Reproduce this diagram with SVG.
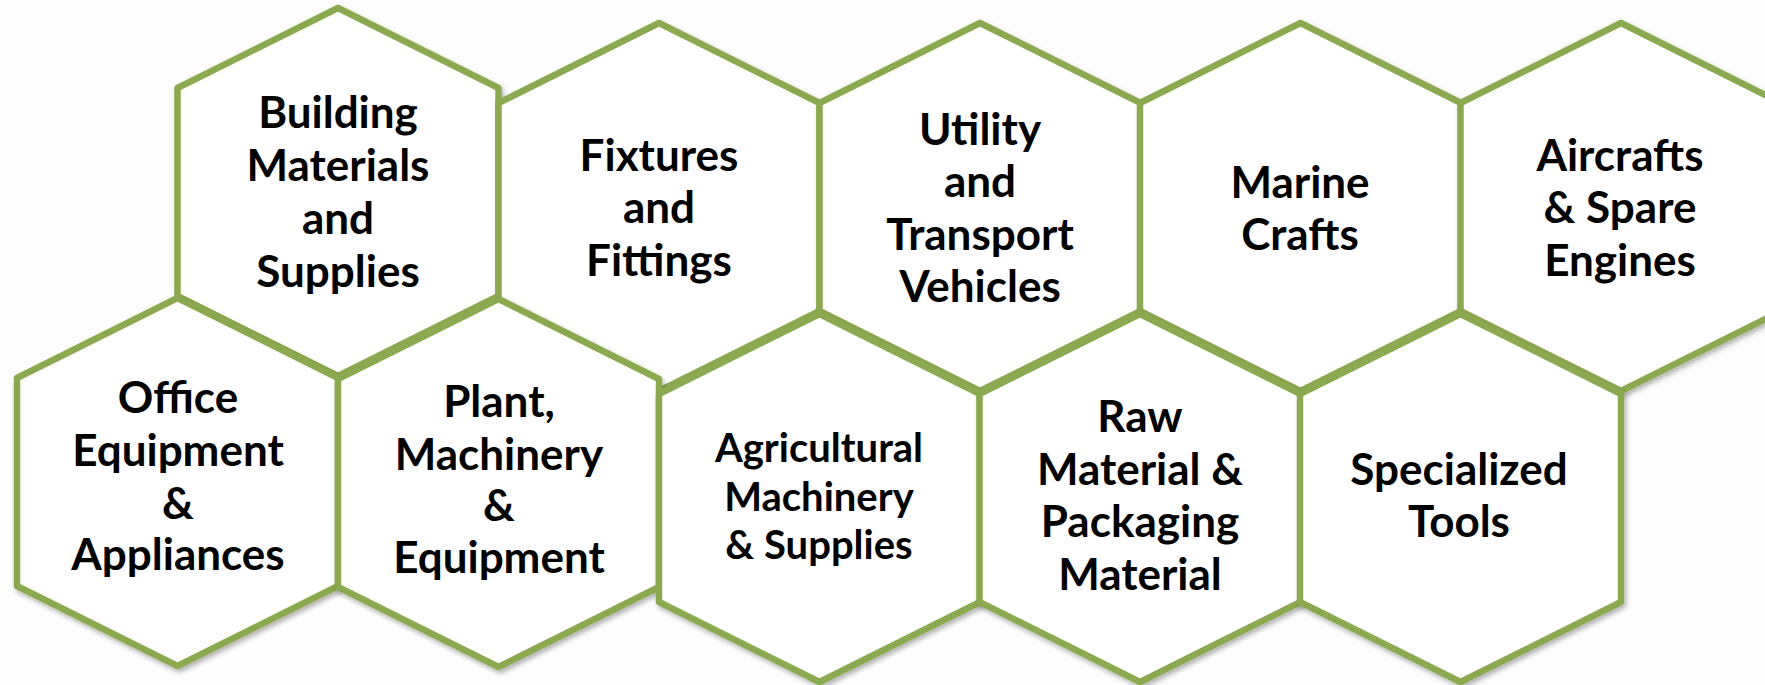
<svg xmlns="http://www.w3.org/2000/svg" width="1765" height="685" viewBox="0 0 1765 685">
<style>
.hex{fill:#ffffff;stroke:#8BAA4F;stroke-width:6.5;stroke-linejoin:round;filter:url(#sh)}
.t{font-family:Lato,"Open Sans","Liberation Sans",sans-serif;font-weight:bold;font-size:44px;fill:#000000;text-anchor:middle}
.s{font-size:40px}
</style>
<defs>
<filter id="sh" x="-10%" y="-10%" width="125%" height="125%">
<feDropShadow dx="2" dy="3" stdDeviation="2.5" flood-color="#000000" flood-opacity="0.3"/>
</filter>
</defs>
<rect width="1765" height="685" fill="#FDFDFD"/>
<g id="building">
<polygon class="hex" points="338,8 498.5,88 498.5,296 338,376 177.5,296 177.5,88"/>
<text class="t"><tspan x="338" y="128">Building</tspan><tspan x="338" y="181">Materials</tspan><tspan x="338" y="234">and</tspan><tspan x="338" y="287">Supplies</tspan></text>
</g>
<g id="fixtures">
<polygon class="hex" points="659,23 819.5,103 819.5,311 659,391 498.5,311 498.5,103"/>
<text class="t"><tspan x="659" y="171">Fixtures</tspan><tspan x="659" y="223">and</tspan><tspan x="659" y="276">Fittings</tspan></text>
</g>
<g id="utility">
<polygon class="hex" points="980,23 1140.5,103 1140.5,311 980,391 819.5,311 819.5,103"/>
<text class="t"><tspan x="980" y="145">Utility</tspan><tspan x="980" y="197">and</tspan><tspan x="980" y="250">Transport</tspan><tspan x="980" y="302">Vehicles</tspan></text>
</g>
<g id="marine">
<polygon class="hex" points="1300.5,23 1461,103 1461,311 1300.5,391 1140,311 1140,103"/>
<text class="t"><tspan x="1300" y="198">Marine</tspan><tspan x="1300" y="250">Crafts</tspan></text>
</g>
<g id="aircrafts">
<polygon class="hex" points="1621,23 1781.5,103 1781.5,311 1621,391 1460.5,311 1460.5,103"/>
<text class="t"><tspan x="1620" y="171">Aircrafts</tspan><tspan x="1620" y="223">&amp; Spare</tspan><tspan x="1620" y="276">Engines</tspan></text>
</g>
<g id="office">
<polygon class="hex" points="177.5,298 338,378 338,586 177.5,666 17,586 17,378"/>
<text class="t"><tspan x="178" y="413">Office</tspan><tspan x="178" y="466">Equipment</tspan><tspan x="178" y="519">&amp;</tspan><tspan x="178" y="570">Appliances</tspan></text>
</g>
<g id="plant">
<polygon class="hex" points="498.5,299 659,379 659,587 498.5,667 338,587 338,379"/>
<text class="t"><tspan x="499" y="417">Plant,</tspan><tspan x="499" y="470">Machinery</tspan><tspan x="499" y="521">&amp;</tspan><tspan x="499" y="573">Equipment</tspan></text>
</g>
<g id="agricultural">
<polygon class="hex" points="819.5,314 980,394 980,602 819.5,682 659,602 659,394"/>
<text class="t s"><tspan x="819" y="462">Agricultural</tspan><tspan x="819" y="511">Machinery</tspan><tspan x="819" y="559">&amp; Supplies</tspan></text>
</g>
<g id="raw">
<polygon class="hex" points="1140,314 1300.5,394 1300.5,602 1140,682 979.5,602 979.5,394"/>
<text class="t"><tspan x="1140" y="432">Raw</tspan><tspan x="1140" y="485">Material &amp;</tspan><tspan x="1140" y="537">Packaging</tspan><tspan x="1140" y="590">Material</tspan></text>
</g>
<g id="specialized">
<polygon class="hex" points="1460.5,314 1621,394 1621,602 1460.5,682 1300,602 1300,394"/>
<text class="t"><tspan x="1459" y="485">Specialized</tspan><tspan x="1459" y="537">Tools</tspan></text>
</g>
<g id="connectors"/>
</svg>
